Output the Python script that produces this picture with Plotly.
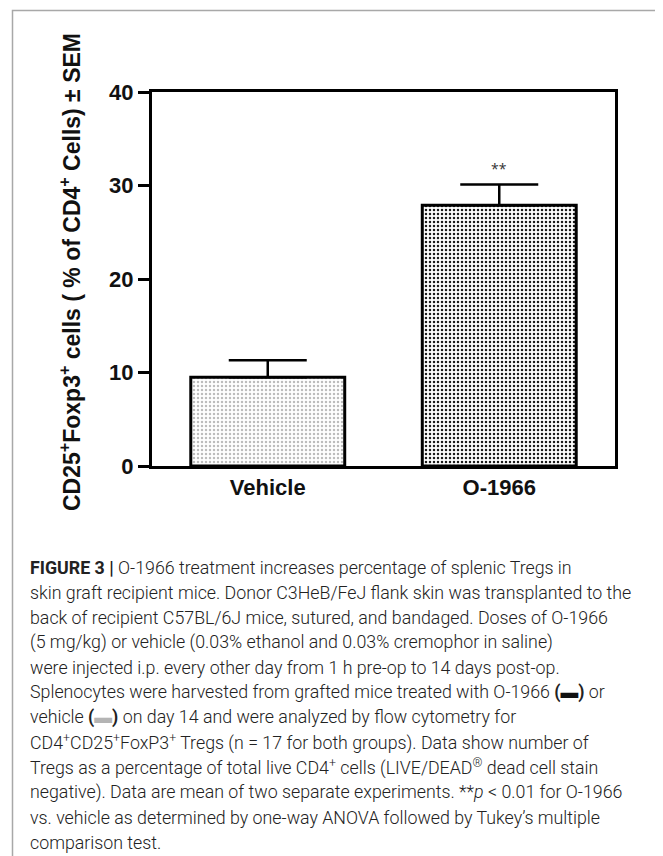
import plotly.graph_objects as go

# values
groups = ["Vehicle", "O-1966"]
means = [9.5, 27.9]
sem = [1.8, 2.2]
y_ticks = [0, 10, 20, 30, 40]
sig_label = "**"

caption_lines = [
    "<b>FIGURE 3 |</b> O-1966 treatment increases percentage of splenic Tregs in",
    "skin graft recipient mice. Donor C3HeB/FeJ flank skin was transplanted to the",
    "back of recipient C57BL/6J mice, sutured, and bandaged. Doses of O-1966",
    "(5 mg/kg) or vehicle (0.03% ethanol and 0.03% cremophor in saline)",
    "were injected i.p. every other day from 1 h pre-op to 14 days post-op.",
    "Splenocytes were harvested from grafted mice treated with O-1966 <b>(</b><span style='color:#111'>▬</span><b>)</b> or",
    "vehicle <b>(</b><span style='color:#b4b4b4'>▬</span><b>)</b> on day 14 and were analyzed by flow cytometry for",
    "CD4<sup>+</sup>CD25<sup>+</sup>FoxP3<sup>+</sup> Tregs (n = 17 for both groups). Data show number of",
    "Tregs as a percentage of total live CD4<sup>+</sup> cells (LIVE/DEAD<sup>®</sup> dead cell stain",
    "negative). Data are mean of two separate experiments. **<i>p</i> &lt; 0.01 for O-1966",
    "vs. vehicle as determined by one-way ANOVA followed by Tukey’s multiple",
    "comparison test.",
]

# page body has an 8px margin, so work in reference pixels shifted by 8
OFF = 8
W, H = 663 - OFF, 856 - OFF
L, T = 152 - OFF, 92 - OFF
R, B = W - (615 - OFF), H - (466 - OFF)
pw, ph = W - L - R, H - T - B


def px_x(x):
    return (x - OFF - L) / pw


def px_y(y):
    return (T + ph - (y - OFF)) / ph


fig = go.Figure()
fig.add_trace(go.Bar(
    x=groups, y=means, width=0.665,
    marker=dict(
        color=["#bdbdbd", "#1c1c1c"],
        line=dict(color="black", width=3),
        pattern=dict(shape=".", fillmode="replace", size=4, solidity=0.3,
                     bgcolor=["#bebebe", "#121212"], fgcolor=["#666666", "#555555"]),
    ),
    error_y=dict(type="data", symmetric=False, array=sem, arrayminus=[0, 0],
                 color="black", thickness=2.5, width=39),
    showlegend=False,
))

fig.add_annotation(x=groups[1], y=means[1] + sem[1], yshift=16, text=sig_label,
                   showarrow=False, font=dict(size=14, color="#333"))

fig.add_annotation(
    xref="paper", yref="paper", x=px_x(70), y=px_y(272), textangle=-90,
    xanchor="center", yanchor="middle",
    text="CD25<sup>+</sup>Foxp3<sup>+</sup> cells ( % of CD4<sup>+</sup> Cells) ± SEM",
    showarrow=False, font=dict(family="Liberation Sans, Arial", size=23, color="#111", weight="bold"),
)

for i, line in enumerate(caption_lines):
    fig.add_annotation(
        xref="paper", yref="paper", x=px_x(28), y=px_y(567 + 25 * i),
        xanchor="left", yanchor="middle", text=line, showarrow=False, align="left",
        font=dict(family="Roboto", size=17.8, color="#222", weight=300),
    )

# outer frame of the figure panel
fig.add_shape(type="rect", xref="paper", yref="paper",
              x0=px_x(12.5), x1=px_x(660.5), y0=px_y(900), y1=px_y(10.5),
              line=dict(color="#a8a8a8", width=1.5), layer="below")

fig.update_xaxes(
    showline=True, linecolor="black", linewidth=3, mirror=True, ticks="",
    range=[-0.5, 1.5],
    tickfont=dict(family="Liberation Sans, Arial", size=22, color="#111", weight="bold"),
)
fig.update_yaxes(
    range=[0, 40], tickvals=y_ticks, showgrid=False, zeroline=False,
    showline=True, linecolor="black", linewidth=3, mirror=True,
    ticks="outside", ticklen=11, tickwidth=3, tickcolor="black",
    tickfont=dict(family="Liberation Sans, Arial", size=22, color="#111", weight="bold"),
)
fig.update_layout(
    width=W, height=H, margin=dict(l=L, r=R, t=T, b=B),
    plot_bgcolor="white", paper_bgcolor="white", bargap=0.335,
)

fig.write_html("out.html")
